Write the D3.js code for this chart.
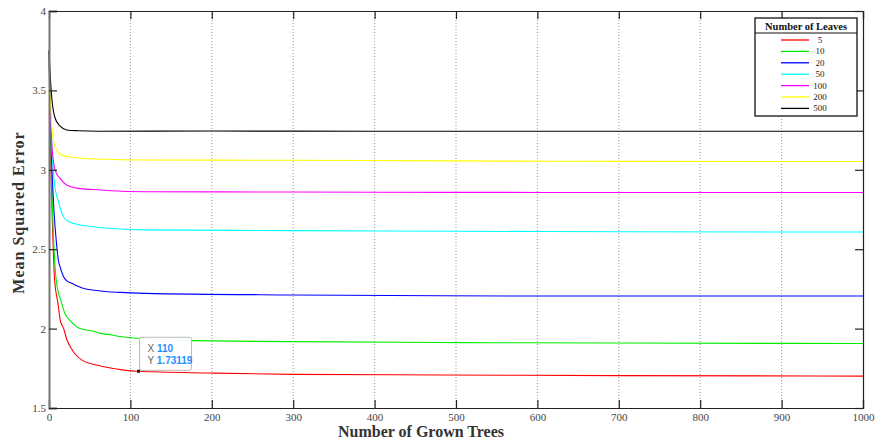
<!DOCTYPE html>
<html>
<head>
<meta charset="utf-8">
<script src="https://cdn.jsdelivr.net/npm/d3@7"></script>
<style>
  body { margin: 0; background: #fff; }
  svg { display: block; }
  .tick-label { font-family: "Liberation Serif", "Times New Roman", serif; font-size: 11px; fill: #444; }
  .axis-title { font-family: "Liberation Serif", "Times New Roman", serif; font-weight: bold; font-size: 16px; fill: #333; }
  .legend-text { font-family: "Liberation Serif", "Times New Roman", serif; font-size: 9px; fill: #222; }
</style>
</head>
<body>
<div id="chart"></div>
<script>
// series: [trees, mse] pairs
const leaves = ['5', '10', '20', '50', '100', '200', '500'];
const colors = ['#ff0000', '#00ee00', '#0000ff', '#00ffff', '#ff00ff', '#ffff00', '#000000'];

const mse5 = [[0, 3.75], [2, 3.1], [4, 2.7], [7, 2.3], [11, 2.16], [14, 2.05], [18, 2.0], [22, 1.93], [28, 1.87], [32, 1.84], [41, 1.8], [57, 1.772], [77, 1.75], [90, 1.74], [110, 1.731], [200, 1.72], [300, 1.712], [480, 1.708], [700, 1.704], [1000, 1.701]];
const mse10 = [[0, 3.75], [2, 3.2], [4, 2.8], [9, 2.3], [15, 2.17], [20, 2.09], [26, 2.05], [38, 2.0], [57, 1.98], [63, 1.97], [77, 1.96], [87, 1.95], [110, 1.939], [175, 1.924], [300, 1.918], [480, 1.912], [700, 1.909], [1000, 1.906]];
const mse20 = [[0, 3.75], [3, 3.1], [6, 2.75], [9.5, 2.52], [11.5, 2.43], [13.5, 2.39], [17.6, 2.33], [22, 2.3], [28, 2.285], [42, 2.254], [63, 2.237], [87, 2.228], [118, 2.222], [300, 2.212], [480, 2.207], [700, 2.205], [1000, 2.205]];
const mse50 = [[0, 3.75], [3, 3.2], [7, 2.9], [11, 2.81], [15.5, 2.73], [22, 2.68], [36, 2.655], [56, 2.64], [87, 2.627], [118, 2.622], [300, 2.617], [500, 2.613], [700, 2.61], [1000, 2.608]];
const mse100 = [[0, 3.75], [3, 3.2], [7.4, 3.0], [13.5, 2.946], [21.7, 2.904], [36, 2.883], [63, 2.873], [77, 2.868], [118, 2.862], [300, 2.86], [500, 2.858], [700, 2.857], [1000, 2.857]];
const mse200 = [[0, 3.75], [2, 3.4], [5.3, 3.188], [9.5, 3.125], [15.6, 3.093], [28, 3.079], [56.5, 3.068], [118, 3.062], [300, 3.06], [500, 3.056], [700, 3.053], [1000, 3.052]];
const mse500 = [[0, 3.75], [2, 3.55], [3.3, 3.46], [7.4, 3.326], [13.5, 3.276], [21.7, 3.251], [35.6, 3.246], [60, 3.243], [200, 3.244], [400, 3.243], [700, 3.243], [1000, 3.243]];
const seriesValues = [mse5, mse10, mse20, mse50, mse100, mse200, mse500];

const xTicks = [0, 100, 200, 300, 400, 500, 600, 700, 800, 900, 1000];
const yTicks = [1.5, 2, 2.5, 3, 3.5, 4];

// data tip
const tipX = 110;
const tipY = 1.73119;

// dimensions
const W = 878;
const H = 441;
const marginLeft = 49;
const marginRight = 15;
const marginTop = 11;
const marginBottom = 33;
const TICK = 8;

const scaleX = d3.scaleLinear().domain([0, 1000]).range([marginLeft, W - marginRight]);
const scaleY = d3.scaleLinear().domain([1.5, 4]).range([H - marginBottom, marginTop]);

const $svg = d3.select('#chart').append('svg').attr('width', W).attr('height', H);

const x0 = scaleX(0), x1 = scaleX(1000), y0 = scaleY(1.5), y1 = scaleY(4);

// vertical grid
$svg.append('g')
  .selectAll('line')
  .data(xTicks.slice(1, -1))
  .join('line')
  .attr('x1', d => scaleX(d)).attr('x2', d => scaleX(d))
  .attr('y1', y1).attr('y2', y0)
  .attr('stroke', '#999')
  .attr('stroke-width', 1)
  .attr('stroke-dasharray', '1,2');

// series
const line = d3.line()
  .curve(d3.curveMonotoneX)
  .x(d => scaleX(d[0]))
  .y(d => scaleY(d[1]));

$svg.append('g')
  .selectAll('path')
  .data(seriesValues)
  .join('path')
  .attr('d', line)
  .attr('fill', 'none')
  .attr('stroke', (d, i) => colors[i])
  .attr('stroke-width', 1.1);

// box axes
const axisBottom = d3.axisBottom(scaleX).tickValues(xTicks).tickSize(-TICK).tickPadding(5).tickFormat(d3.format('d'));
const axisTop = d3.axisTop(scaleX).tickValues(xTicks).tickSize(-TICK).tickFormat('');
const axisLeft = d3.axisLeft(scaleY).tickValues(yTicks).tickSize(-TICK).tickPadding(3).tickFormat(d3.format('~g'));
const axisRight = d3.axisRight(scaleY).tickValues(yTicks).tickSize(-TICK).tickFormat('');

function styleAxis($g) {
  $g.select('.domain').attr('stroke', '#222').attr('stroke-width', 1.2);
  $g.selectAll('.tick line').attr('stroke', '#222').attr('stroke-width', 1.2);
  $g.selectAll('.tick text').attr('class', 'tick-label').attr('font-family', null).attr('font-size', null);
  $g.attr('font-family', null).attr('font-size', null);
}

$svg.append('g').attr('transform', `translate(0,${y0})`).call(axisBottom).call(styleAxis);
$svg.append('g').attr('transform', `translate(0,${y1})`).call(axisTop).call(styleAxis);
$svg.append('g').attr('transform', `translate(${x0},0)`).call(axisLeft).call(styleAxis)
  .select('.domain').attr('stroke', '#777').attr('stroke-width', 2);
$svg.append('g').attr('transform', `translate(${x1},0)`).call(axisRight).call(styleAxis);

// axis titles
$svg.append('text')
  .attr('class', 'axis-title')
  .attr('x', 421)
  .attr('y', 437)
  .attr('text-anchor', 'middle')
  .text('Number of Grown Trees');

$svg.append('text')
  .attr('class', 'axis-title')
  .attr('transform', `translate(24,${(y0 + y1) / 2 + 3}) rotate(-90)`)
  .attr('text-anchor', 'middle')
  .attr('letter-spacing', 1)
  .text('Mean Squared Error');

// legend
const lgX = 755, lgY = 18, lgW = 102, lgH = 98;
const $legend = $svg.append('g').attr('transform', `translate(${lgX},${lgY})`);
$legend.append('rect')
  .attr('width', lgW).attr('height', lgH)
  .attr('fill', '#fff').attr('stroke', '#111').attr('stroke-width', 1.3);
$legend.append('text')
  .attr('x', lgW / 2).attr('y', 11.5)
  .attr('text-anchor', 'middle')
  .attr('font-family', '"Liberation Serif", serif')
  .attr('font-weight', 'bold')
  .attr('font-size', 10.5)
  .attr('fill', '#111')
  .text('Number of Leaves');
$legend.append('line')
  .attr('x1', 0).attr('x2', lgW).attr('y1', 15).attr('y2', 15)
  .attr('stroke', '#111').attr('stroke-width', 1);

const $item = $legend.selectAll('.item')
  .data(leaves)
  .join('g')
  .attr('class', 'item')
  .attr('transform', (d, i) => `translate(0,${22 + i * 11.4})`);
$item.append('line')
  .attr('x1', 26).attr('x2', 54)
  .attr('stroke', (d, i) => colors[i])
  .attr('stroke-width', 1.3);
$item.append('text')
  .attr('class', 'legend-text')
  .attr('x', 65).attr('y', 3)
  .attr('text-anchor', 'middle')
  .text(d => d);

// data tip
const tx = scaleX(tipX), ty = scaleY(tipY);
const $tip = $svg.append('g');
$tip.append('rect')
  .attr('x', tx + 1).attr('y', ty - 34)
  .attr('width', 52).attr('height', 33)
  .attr('rx', 2)
  .attr('fill', '#fff').attr('fill-opacity', 0.92)
  .attr('stroke', '#bbb').attr('stroke-width', 1);
const tipFont = '"Liberation Sans", Arial, sans-serif';
[['X', String(tipX)], ['Y', String(tipY)]].forEach(([k, v], i) => {
  const t = $tip.append('text')
    .attr('x', tx + 9).attr('y', ty - 19.5 + i * 12.4)
    .attr('font-family', tipFont).attr('font-size', 10);
  t.append('tspan').attr('fill', '#666').text(k + ' ');
  t.append('tspan').attr('fill', '#1e8fff').attr('font-weight', 'bold').text(v);
});
$tip.append('rect')
  .attr('x', tx - 1.5).attr('y', ty - 1.5)
  .attr('width', 3).attr('height', 3)
  .attr('fill', '#111');
</script>
</body>
</html>
